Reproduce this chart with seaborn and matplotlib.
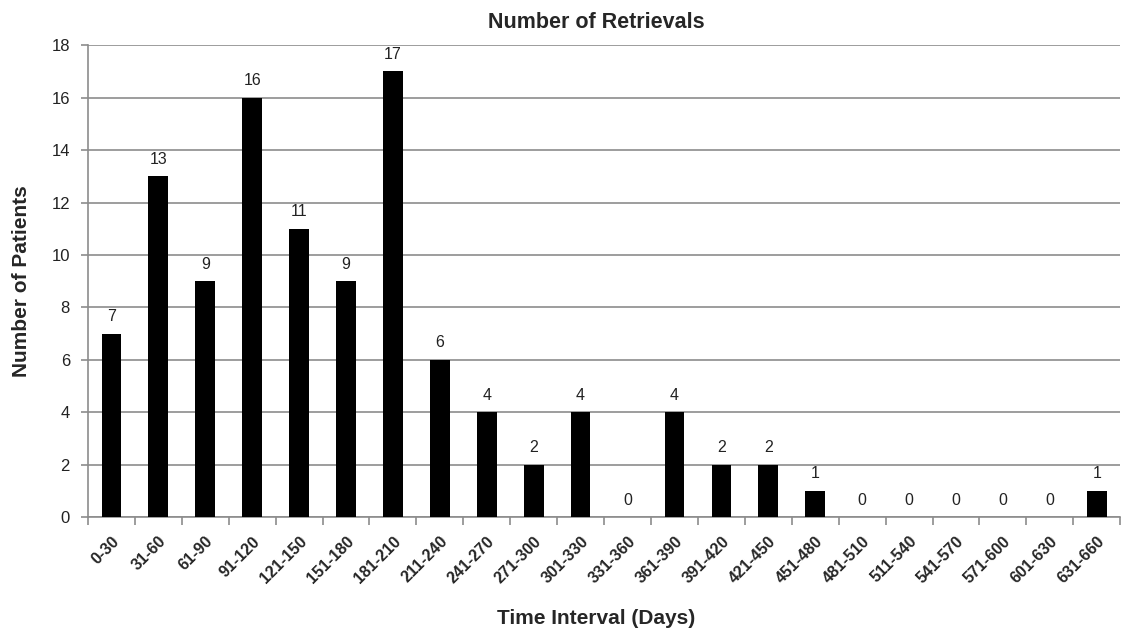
import matplotlib
matplotlib.use("Agg")
import matplotlib.pyplot as plt
import numpy as np
import pandas as pd
import seaborn as sns

intervals = ["0-30", "31-60", "61-90", "91-120", "121-150", "151-180", "181-210",
             "211-240", "241-270", "271-300", "301-330", "331-360", "361-390",
             "391-420", "421-450", "451-480", "481-510", "511-540", "541-570",
             "571-600", "601-630", "631-660"]
patients = [7, 13, 9, 16, 11, 9, 17, 6, 4, 2, 4, 0, 4, 2, 2, 1, 0, 0, 0, 0, 0, 1]

df = pd.DataFrame({"interval": intervals, "patients": patients})

sns.set_style("white")
plt.rcParams['font.family'] = ['Liberation Sans', 'DejaVu Sans']

fig = plt.figure(figsize=(11.22, 6.29), dpi=100)
ax = fig.add_axes([0.0784, 0.178, 0.92, 0.75])

sns.barplot(data=df, x="interval", y="patients", color="black", width=0.42,
            saturation=1, linewidth=0, ax=ax, zorder=3)

for i, v in enumerate(patients):
    ax.text(i, v + 0.65, str(v), ha="center", va="center", fontsize=11.5, color="#222222")

ax.set_ylim(0, 18)
ax.set_yticks(np.arange(0, 19, 2))
ax.set_xlim(-0.5, len(intervals) - 0.5)
ax.yaxis.grid(True, color="#8c8c8c", linewidth=1.2, zorder=0)
ax.set_axisbelow(True)

# tick marks between categories, labels at centres
n = len(intervals)
ax.set_xticks(np.arange(-0.5, n, 1))
ax.set_xticklabels([])
ax.set_xticks(np.arange(n), minor=True)
ax.set_xticklabels(intervals, minor=True, rotation=45, ha="right",
                   rotation_mode="anchor", fontsize=11.5, fontweight="bold")
ax.tick_params(axis="x", which="major", length=6, width=1.2, color="#8c8c8c",
               direction="out", bottom=True)
ax.tick_params(axis="x", which="minor", length=0, pad=12)
ax.tick_params(axis="y", length=5, width=1.2, color="#8c8c8c", labelsize=12,
               labelcolor="#222222", left=True, pad=8)

for s in ["top", "right"]:
    ax.spines[s].set_visible(False)
for s in ["left", "bottom"]:
    ax.spines[s].set_color("#8c8c8c")
    ax.spines[s].set_linewidth(1.2)

ax.set_xlabel("")
ax.set_ylabel("")
fig.text(596 / 1122, 1 - 618 / 629, "Time Interval (Days)", fontsize=15,
         fontweight="bold", ha="center", va="center")
fig.text(22 / 1122, 1 - 281 / 629, "Number of Patients", fontsize=15,
         fontweight="bold", ha="center", va="center", rotation=90)
fig.text(596 / 1122, 1 - 22 / 629, "Number of Retrievals", fontsize=15.5,
         fontweight="bold", ha="center", va="center")

fig.savefig("out.png", dpi=100)
